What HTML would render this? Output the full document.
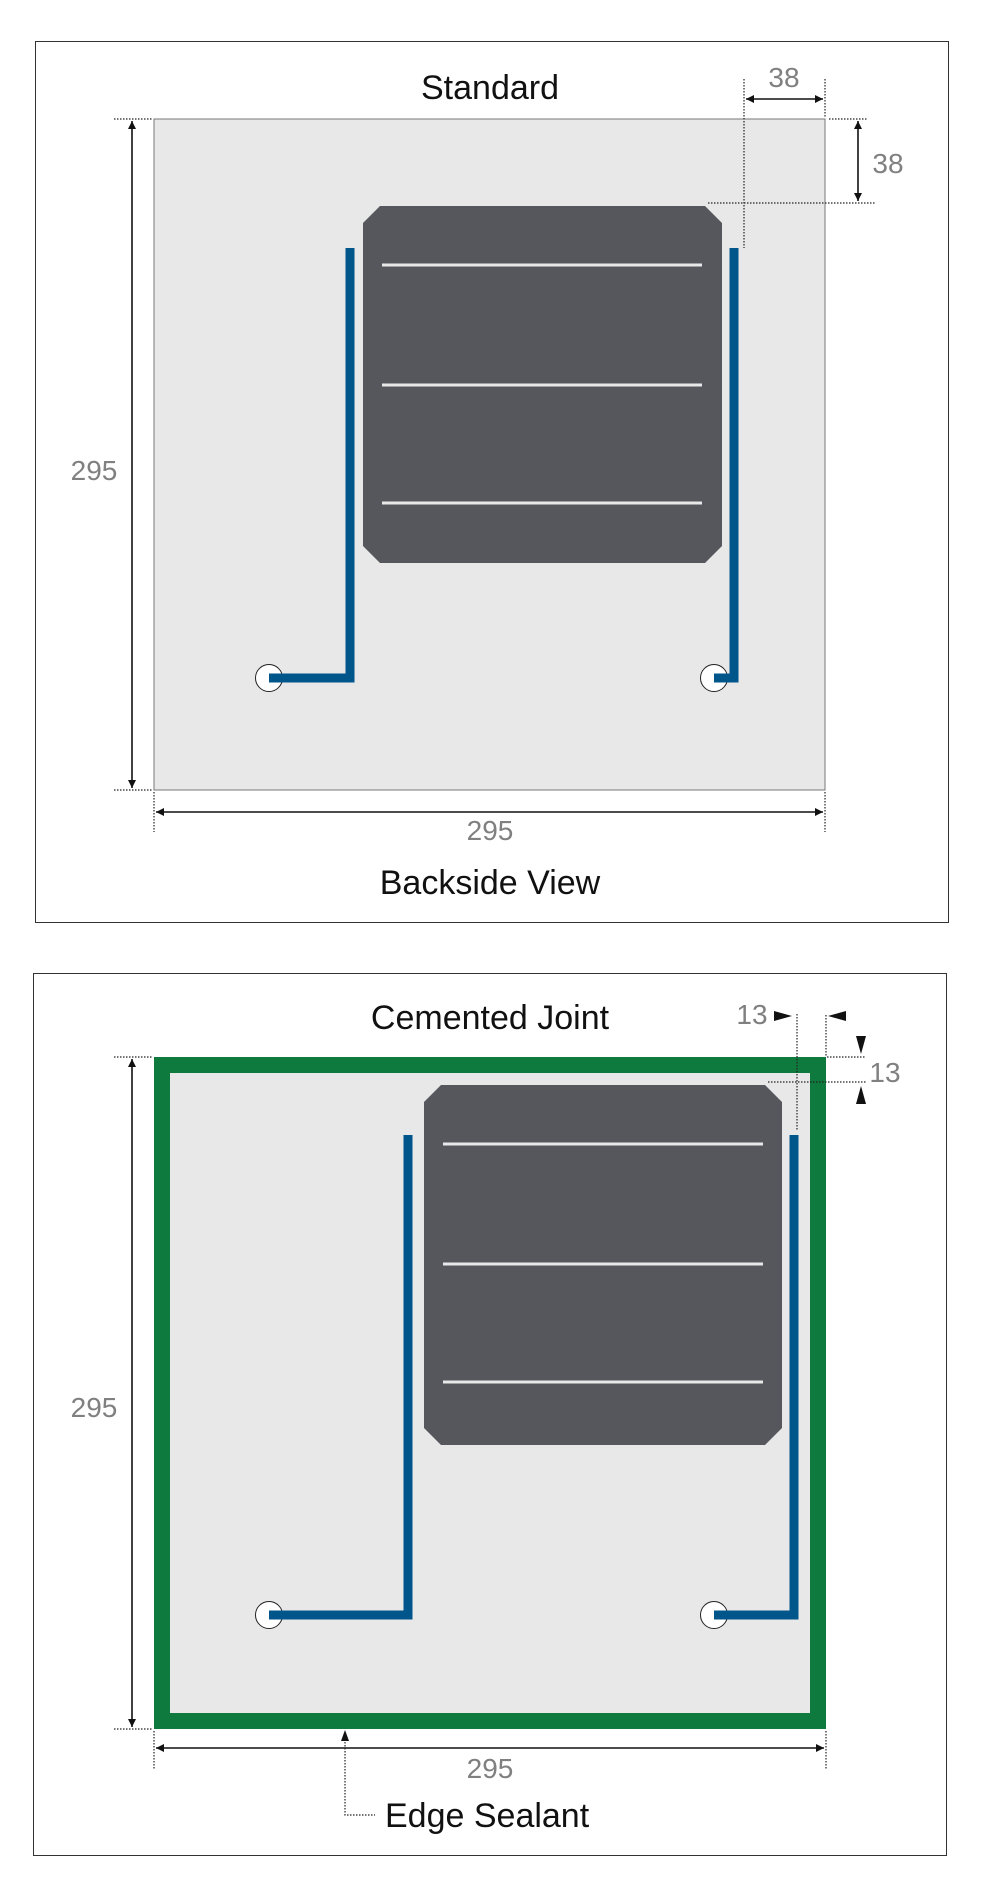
<!DOCTYPE html>
<html><head><meta charset="utf-8"><style>
html,body{margin:0;padding:0;background:#fff}
svg{display:block}
text{font-family:"Liberation Sans",sans-serif}
.t{font-size:34px;fill:#111;text-anchor:middle}
.n{font-size:28px;fill:#808080;text-anchor:middle}
.d{stroke:#222;stroke-width:1.2;stroke-dasharray:1.5 1.5;fill:none}
.a{stroke:#111;stroke-width:1.6;fill:none}
.bb{stroke:#e8e8e8;stroke-width:3}
.w{stroke:#00558a;stroke-width:9;fill:none}
</style></head><body>
<svg width="986" height="1894" viewBox="0 0 986 1894" xmlns="http://www.w3.org/2000/svg">
<defs>
<marker id="ar" viewBox="0 0 10 10" refX="10" refY="5" markerWidth="12" markerHeight="8" orient="auto-start-reverse" markerUnits="userSpaceOnUse"><path d="M0,0 L10,5 L0,10 z" fill="#111"/></marker>
</defs>
<!-- TOP PANEL -->
<rect x="35.5" y="41.5" width="913" height="881" fill="#fff" stroke="#333" stroke-width="1"/>
<text class="t" x="490" y="99">Standard</text>
<rect x="154" y="119" width="671" height="671" fill="#e8e8e8" stroke="#777" stroke-width="1"/>
<polygon points="380,206 705,206 722,223 722,546 705,563 380,563 363,546 363,223" fill="#55575c"/>
<line class="bb" x1="382" y1="265" x2="702" y2="265"/>
<line class="bb" x1="382" y1="385" x2="702" y2="385"/>
<line class="bb" x1="382" y1="503" x2="702" y2="503"/>
<circle cx="269" cy="678" r="13.5" fill="#fff" stroke="#222" stroke-width="1"/>
<circle cx="714" cy="678" r="13.5" fill="#fff" stroke="#222" stroke-width="1"/>
<polyline class="w" points="269,678 350,678 350,248"/>
<polyline class="w" points="714,678 734,678 734,248"/>
<!-- dims -->
<line class="d" x1="114" y1="119" x2="152" y2="119"/>
<line class="d" x1="114" y1="790" x2="152" y2="790"/>
<line class="a" x1="132" y1="121" x2="132" y2="788" marker-start="url(#ar)" marker-end="url(#ar)"/>
<text class="n" x="94" y="480">295</text>
<line class="d" x1="154" y1="792" x2="154" y2="832"/>
<line class="d" x1="825" y1="792" x2="825" y2="832"/>
<line class="a" x1="156" y1="812" x2="823" y2="812" marker-start="url(#ar)" marker-end="url(#ar)"/>
<text class="n" x="490" y="840">295</text>
<text class="t" x="490" y="894">Backside View</text>
<line class="d" x1="744" y1="79" x2="744" y2="248"/>
<line class="d" x1="825" y1="79" x2="825" y2="117"/>
<line class="a" x1="746" y1="99" x2="823" y2="99" marker-start="url(#ar)" marker-end="url(#ar)"/>
<text class="n" x="784" y="87">38</text>
<line class="d" x1="829" y1="119" x2="867" y2="119"/>
<line class="d" x1="708" y1="203" x2="875" y2="203"/>
<line class="a" x1="858" y1="121" x2="858" y2="201" marker-start="url(#ar)" marker-end="url(#ar)"/>
<text class="n" x="888" y="173">38</text>
<!-- BOTTOM PANEL -->
<rect x="33.5" y="973.5" width="913" height="882" fill="#fff" stroke="#333" stroke-width="1"/>
<text class="t" x="490" y="1029">Cemented Joint</text>
<rect x="154" y="1057" width="672" height="672" fill="#0f7a3d"/>
<rect x="170" y="1073" width="640" height="640" fill="#e8e8e8"/>
<polygon points="441,1085 765,1085 782,1102 782,1428 765,1445 441,1445 424,1428 424,1102" fill="#55575c"/>
<line class="bb" x1="443" y1="1144" x2="763" y2="1144"/>
<line class="bb" x1="443" y1="1264" x2="763" y2="1264"/>
<line class="bb" x1="443" y1="1382" x2="763" y2="1382"/>
<circle cx="269" cy="1615" r="13.5" fill="#fff" stroke="#222" stroke-width="1"/>
<circle cx="714" cy="1615" r="13.5" fill="#fff" stroke="#222" stroke-width="1"/>
<polyline class="w" points="269,1615 408,1615 408,1135"/>
<polyline class="w" points="714,1615 794,1615 794,1135"/>
<line class="d" x1="114" y1="1057" x2="152" y2="1057"/>
<line class="d" x1="114" y1="1729" x2="152" y2="1729"/>
<line class="a" x1="132" y1="1059" x2="132" y2="1727" marker-start="url(#ar)" marker-end="url(#ar)"/>
<text class="n" x="94" y="1417">295</text>
<line class="d" x1="154" y1="1731" x2="154" y2="1770"/>
<line class="d" x1="826" y1="1731" x2="826" y2="1770"/>
<line class="a" x1="156" y1="1748" x2="824" y2="1748" marker-start="url(#ar)" marker-end="url(#ar)"/>
<text class="n" x="490" y="1778">295</text>
<polyline class="d" points="345,1739 345,1815 375,1815"/>
<path d="M341,1741 L345,1730 L349,1741 z" fill="#111"/>
<text x="385" y="1827" style="font-size:34px;fill:#111">Edge Sealant</text>
<!-- 13 dims -->
<text class="n" x="752" y="1024">13</text>
<path d="M774,1011 L792,1016 L774,1021 z" fill="#111"/>
<line class="d" x1="797" y1="1014" x2="797" y2="1130"/>
<line class="d" x1="826" y1="1015" x2="826" y2="1056"/>
<path d="M846,1011 L828,1016 L846,1021 z" fill="#111"/>
<path d="M856,1036 L861,1054 L866,1036 z" fill="#111"/>
<line class="d" x1="827" y1="1057" x2="866" y2="1057"/>
<line class="d" x1="768" y1="1082" x2="866" y2="1082"/>
<path d="M856,1104 L861,1086 L866,1104 z" fill="#111"/>
<text class="n" x="885" y="1082">13</text>
</svg>
</body></html>
